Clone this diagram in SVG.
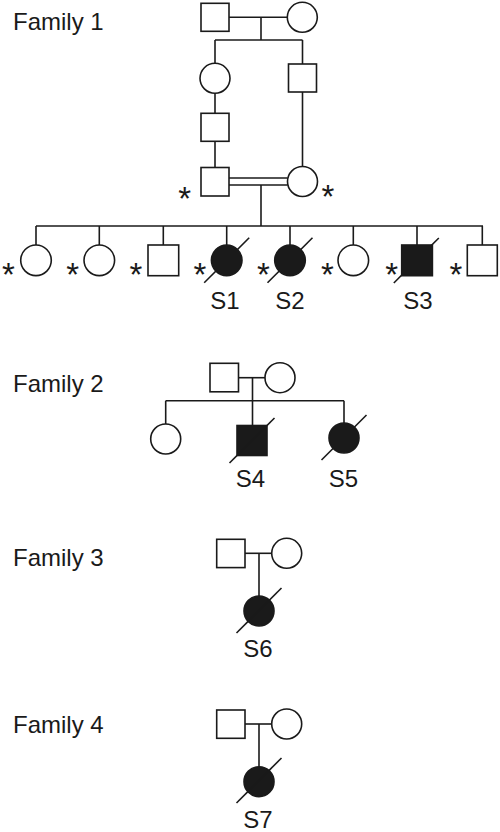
<svg xmlns="http://www.w3.org/2000/svg" width="500" height="832" viewBox="0 0 500 832">
<style>
.sym{fill:#fff;stroke:#1a1a1a;stroke-width:1.6}
.aff{fill:#1a1a1a;stroke:#1a1a1a;stroke-width:1.6}
.ln{fill:none;stroke:#1a1a1a;stroke-width:1.6}
.lbl{font-family:"Liberation Sans",Arial,sans-serif;font-size:24px;fill:#1a1a1a}
.sl{font-family:"Liberation Sans",Arial,sans-serif;font-size:24px;fill:#1a1a1a;text-anchor:middle}
.st{font-family:"Liberation Sans",Arial,sans-serif;font-size:33px;fill:#1a1a1a;text-anchor:middle}
</style>
<rect width="500" height="832" fill="#fff"/>
<g id="connectors">
<line class="ln" x1="229" y1="17.3" x2="287" y2="17.3"/>
<line class="ln" x1="261" y1="17.3" x2="261" y2="40"/>
<line class="ln" x1="215" y1="40" x2="302.5" y2="40"/>
<line class="ln" x1="215" y1="40" x2="215" y2="63"/>
<line class="ln" x1="302.5" y1="40" x2="302.5" y2="64"/>
<line class="ln" x1="215" y1="93" x2="215" y2="113"/>
<line class="ln" x1="215" y1="141" x2="215" y2="167.5"/>
<line class="ln" x1="302.5" y1="92" x2="302.5" y2="166.5"/>
<line class="ln" x1="229" y1="178" x2="287.5" y2="178"/>
<line class="ln" x1="229" y1="185" x2="287.5" y2="185"/>
<line class="ln" x1="261" y1="185" x2="261" y2="226"/>
<line class="ln" x1="36" y1="226" x2="483" y2="226"/>
<line class="ln" x1="36" y1="226" x2="36" y2="245"/>
<line class="ln" x1="99.3" y1="226" x2="99.3" y2="245"/>
<line class="ln" x1="163.3" y1="226" x2="163.3" y2="245"/>
<line class="ln" x1="226.7" y1="226" x2="226.7" y2="245"/>
<line class="ln" x1="290" y1="226" x2="290" y2="245"/>
<line class="ln" x1="353.3" y1="226" x2="353.3" y2="245"/>
<line class="ln" x1="417" y1="226" x2="417" y2="245"/>
<line class="ln" x1="482.3" y1="226" x2="482.3" y2="245"/>
<line class="ln" x1="238.5" y1="377.7" x2="265" y2="377.7"/>
<line class="ln" x1="252.5" y1="377.7" x2="252.5" y2="400.7"/>
<line class="ln" x1="165.7" y1="400.7" x2="344" y2="400.7"/>
<line class="ln" x1="165.7" y1="400.7" x2="165.7" y2="424"/>
<line class="ln" x1="252.5" y1="400.7" x2="252.5" y2="425.5"/>
<line class="ln" x1="344" y1="400.7" x2="344" y2="423"/>
<line class="ln" x1="245" y1="553.3" x2="271.7" y2="553.3"/>
<line class="ln" x1="259" y1="553.3" x2="259" y2="596"/>
<line class="ln" x1="245" y1="724" x2="271.7" y2="724"/>
<line class="ln" x1="259" y1="724" x2="259" y2="766.7"/>
</g>
<g id="labels">
<text class="lbl" x="13" y="30">Family 1</text>
<text class="lbl" x="13" y="391.7">Family 2</text>
<text class="lbl" x="13" y="565.7">Family 3</text>
<text class="lbl" x="13" y="733.3">Family 4</text>
</g>
<g id="f1-gen1-father"><rect class="sym" x="201" y="3.3" width="28" height="28"/></g>
<g id="f1-gen1-mother"><circle class="sym" cx="302.3" cy="17.3" r="15"/></g>
<g id="f1-gen2-daughter"><circle class="sym" cx="215" cy="78.3" r="15"/></g>
<g id="f1-gen2-son"><rect class="sym" x="288.5" y="64" width="28" height="28"/></g>
<g id="f1-gen3-son"><rect class="sym" x="201" y="113.3" width="28" height="28"/></g>
<g id="f1-gen4-father"><rect class="sym" x="201" y="167.5" width="28" height="28.5"/><text class="st" x="184.7" y="209.5">*</text></g>
<g id="f1-gen4-mother"><circle class="sym" cx="302.5" cy="181.5" r="15"/><text class="st" x="328" y="208">*</text></g>
<g id="f1-c1"><circle class="sym" cx="36" cy="260.3" r="15.3"/><text class="st" x="8.3" y="286.3">*</text></g>
<g id="f1-c2"><circle class="sym" cx="99.3" cy="260.3" r="15.3"/><text class="st" x="72.7" y="286.3">*</text></g>
<g id="f1-c3"><rect class="sym" x="148" y="245" width="30.7" height="30.7"/><text class="st" x="136" y="286.3">*</text></g>
<g id="f1-S1"><circle class="aff" cx="226.7" cy="260.3" r="15.3"/><line class="ln" x1="204.2" y1="282.8" x2="249.2" y2="237.8"/><text class="st" x="200" y="286.3">*</text><text class="sl" x="225" y="309.3">S1</text></g>
<g id="f1-S2"><circle class="aff" cx="290" cy="260.3" r="15.3"/><line class="ln" x1="267.5" y1="282.8" x2="312.5" y2="237.8"/><text class="st" x="263.3" y="286.3">*</text><text class="sl" x="290" y="309.3">S2</text></g>
<g id="f1-c6"><circle class="sym" cx="353.3" cy="260.3" r="15.3"/><text class="st" x="327.3" y="286.3">*</text></g>
<g id="f1-S3"><rect class="aff" x="401.7" y="245" width="30.7" height="30.7"/><line class="ln" x1="393.8" y1="283" x2="438.8" y2="238"/><text class="st" x="391.7" y="286.3">*</text><text class="sl" x="418" y="309.3">S3</text></g>
<g id="f1-c8"><rect class="sym" x="467.3" y="245" width="30" height="30.7"/><text class="st" x="456" y="286.3">*</text></g>
<g id="f2-father"><rect class="sym" x="210" y="363.3" width="28.5" height="28.5"/></g>
<g id="f2-mother"><circle class="sym" cx="280" cy="377.7" r="15"/></g>
<g id="f2-c1"><circle class="sym" cx="165.7" cy="439" r="15"/></g>
<g id="f2-S4"><rect class="aff" x="237" y="425.5" width="30" height="30"/><line class="ln" x1="229.5" y1="463" x2="274.5" y2="418"/><text class="sl" x="250.5" y="487.3">S4</text></g>
<g id="f2-S5"><circle class="aff" cx="344" cy="438" r="15"/><line class="ln" x1="321.5" y1="460" x2="366.5" y2="415"/><text class="sl" x="343.5" y="487.3">S5</text></g>
<g id="f3-father"><rect class="sym" x="216.7" y="539.3" width="28.3" height="28.3"/></g>
<g id="f3-mother"><circle class="sym" cx="286.7" cy="553.3" r="15"/></g>
<g id="f3-S6"><circle class="aff" cx="259" cy="611" r="15"/><line class="ln" x1="236.5" y1="633" x2="281.5" y2="588"/><text class="sl" x="258" y="656.7">S6</text></g>
<g id="f4-father"><rect class="sym" x="216.7" y="710" width="28.3" height="28.3"/></g>
<g id="f4-mother"><circle class="sym" cx="286.7" cy="724" r="15"/></g>
<g id="f4-S7"><circle class="aff" cx="259" cy="781.7" r="15"/><line class="ln" x1="236.5" y1="803" x2="281.5" y2="758"/><text class="sl" x="258" y="828.3">S7</text></g>
</svg>
